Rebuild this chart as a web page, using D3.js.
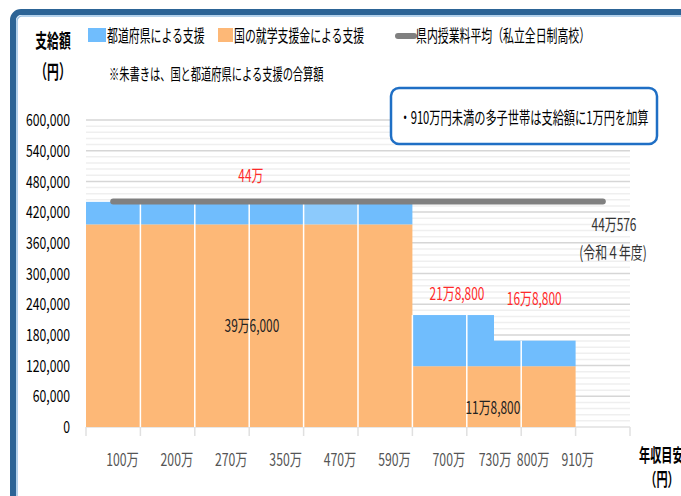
<!DOCTYPE html>
<html>
<head>
<meta charset="utf-8">
<script src="https://cdn.jsdelivr.net/npm/d3@7"></script>
<style>
  body { margin: 0; background: #fff; }
  svg { display: block; font-family: "Noto Sans CJK JP", "Noto Sans", sans-serif; }
</style>
</head>
<body>
<svg width="681" height="496"></svg>
<script>
// income brackets (x axis)
var categories = ["100万", "200万", "270万", "350万", "470万", "590万", "700万", "730万", "800万", "910万"];
// national support (就学支援金)
var national = [396000, 396000, 396000, 396000, 396000, 396000, 118800, 118800, 118800, 0];
// prefecture support, left / right half of each bracket
var prefLeft = [44000, 44000, 44000, 44000, 44000, 44000, 100000, 100000, 50000, 0];
var prefRight = [44000, 44000, 44000, 44000, 44000, 44000, 100000, 50000, 50000, 0];
// average tuition (private, full-time)
var avgTuition = 440576;
var yTicks = [0, 60000, 120000, 180000, 240000, 300000, 360000, 420000, 480000, 540000, 600000];
var legendItems = ["都道府県による支援", "国の就学支援金による支援", "県内授業料平均（私立全日制高校）"];

var BLUE = "#70bdfd", BLUE_LIGHT = "#8ccafc", ORANGE = "#fdb877", GRAY = "#808080";
var SX = 0.7;

var svg = d3.select("svg");

var x = d3.scaleLinear().domain([0, categories.length]).range([86, 630]),
    y = d3.scaleLinear().domain([0, 600000]).range([427, 120]);

function txt(g, px, py, s, o) {
    o = o || {};
    return g.append("text")
        .attr("transform", "translate(" + px + "," + py + ") scale(" + (o.sx || SX) + ",1)")
        .attr("text-anchor", o.anchor || "middle")
        .attr("dy", "0.36em")
        .attr("font-size", (o.size || 17) + "px")
        .attr("font-weight", o.bold ? "bold" : "normal")
        .attr("fill", o.color || "#000")
        .text(s);
}

// frame
svg.append("rect")
    .attr("x", 13).attr("y", 12)
    .attr("width", 720).attr("height", 540)
    .attr("rx", 8)
    .attr("fill", "none")
    .attr("stroke", "#2c6496")
    .attr("stroke-width", 6);
svg.append("rect")
    .attr("x", 17).attr("y", 16)
    .attr("width", 720).attr("height", 540)
    .attr("rx", 5)
    .attr("fill", "none")
    .attr("stroke", "#9cc3e6")
    .attr("stroke-width", 1.5);

// grid
var minor = d3.range(12000, 600001, 12000);
svg.append("g").selectAll("line")
    .data(minor)
    .enter().append("line")
    .attr("x1", x(0)).attr("x2", x(10))
    .attr("y1", function(d) { return y(d); })
    .attr("y2", function(d) { return y(d); })
    .attr("stroke", function(d) { return d % 60000 === 0 ? "#d6d6d6" : "#efefef"; })
    .attr("stroke-width", 1.5);

// baseline + ticks
svg.append("line")
    .attr("x1", x(0)).attr("x2", x(10))
    .attr("y1", y(0)).attr("y2", y(0))
    .attr("stroke", "#e0e0e0").attr("stroke-width", 1.5);
svg.append("g").selectAll("line")
    .data(d3.range(categories.length + 1))
    .enter().append("line")
    .attr("x1", function(d) { return x(d); })
    .attr("x2", function(d) { return x(d); })
    .attr("y1", y(0)).attr("y2", y(0) + 9)
    .attr("stroke", "#e0e0e0").attr("stroke-width", 1.5);

// bars: orange per bracket, blue merged over runs of equal half-brackets
var bars = svg.append("g");
categories.forEach(function(c, i) {
    if (national[i] <= 0) return;
    bars.append("rect")
        .attr("x", x(i)).attr("width", x(i + 1) - x(i))
        .attr("y", y(national[i]))
        .attr("height", y(0) - y(national[i]))
        .attr("fill", ORANGE);
});
var halves = [];
categories.forEach(function(c, i) {
    halves.push({ s: i, base: national[i], v: prefLeft[i], light: i === 4 });
    halves.push({ s: i + 0.5, base: national[i], v: prefRight[i], light: i === 4 });
});
var runs = [];
halves.forEach(function(h) {
    var last = runs[runs.length - 1];
    if (last && last.base === h.base && last.v === h.v && last.light === h.light) {
        last.e = h.s + 0.5;
    } else {
        runs.push({ s: h.s, e: h.s + 0.5, base: h.base, v: h.v, light: h.light });
    }
});
runs.filter(function(r) { return r.v > 0; }).forEach(function(r) {
    bars.append("rect")
        .attr("x", x(r.s)).attr("width", x(r.e) - x(r.s))
        .attr("y", y(r.base + r.v))
        .attr("height", y(r.base) - y(r.base + r.v))
        .attr("fill", r.light ? BLUE_LIGHT : BLUE);
});
// white separators between brackets
d3.range(1, categories.length).forEach(function(i) {
    var top = Math.min(national[i - 1] + prefRight[i - 1], national[i] + prefLeft[i]);
    if (top <= 0) return;
    bars.append("line")
        .attr("x1", x(i)).attr("x2", x(i))
        .attr("y1", y(0)).attr("y2", y(top))
        .attr("stroke", "#fff").attr("stroke-width", 1.5);
});

// average tuition line
svg.append("line")
    .attr("x1", x(0.5)).attr("x2", x(9.5))
    .attr("y1", y(avgTuition)).attr("y2", y(avgTuition))
    .attr("stroke", GRAY).attr("stroke-width", 6)
    .attr("stroke-linecap", "round");

// y axis labels
yTicks.forEach(function(t) {
    txt(svg, 70, y(t), d3.format(",")(t), { anchor: "end", sx: 0.72 });
});

// x axis labels
var labelShift = [0.67, 0.67, 0.67, 0.67, 0.67, 0.67, 0.67, 0.52, 0.22, 0.04];
categories.forEach(function(c, i) {
    txt(svg, x(i + labelShift[i]), 460, c, { color: "#555", sx: 0.72 });
});

// value annotations
var red = "#ff2a2a";
txt(svg, x(3.03), y(440000) - 26, "44万", { color: red });
txt(svg, x(3.05), y(198000), "39万6,000", { color: "#222" });
txt(svg, x(6.82), y(218800) - 21, "21万8,800", { color: red });
txt(svg, x(8.24), y(168800) - 42, "16万8,800", { color: red });
txt(svg, x(7.48), y(118800) + 42, "11万8,800", { color: "#222" });
txt(svg, 614, 225, "44万576", { color: "#333" });
txt(svg, 613, 253, "(令和４年度)", { color: "#333" });

// axis titles
txt(svg, 53, 41, "支給額", { bold: true, size: 19, sx: 0.62 });
txt(svg, 53, 72, "（円）", { bold: true, size: 19, sx: 0.62 });
txt(svg, 639, 456, "年収目安", { bold: true, size: 18, sx: 0.62, anchor: "start" });
txt(svg, 662, 480, "（円）", { bold: true, size: 18, sx: 0.62 });

// legend
var lg = svg.append("g");
lg.append("rect").attr("x", 88).attr("y", 28).attr("width", 18).attr("height", 14).attr("fill", BLUE);
txt(lg, 107, 36, legendItems[0], { anchor: "start", sx: 0.64 });
lg.append("rect").attr("x", 218).attr("y", 28).attr("width", 15).attr("height", 14).attr("fill", ORANGE);
txt(lg, 234, 36, legendItems[1], { anchor: "start", sx: 0.64 });
lg.append("line").attr("x1", 398).attr("x2", 414).attr("y1", 36).attr("y2", 36)
    .attr("stroke", GRAY).attr("stroke-width", 6).attr("stroke-linecap", "round");
txt(lg, 416, 36, legendItems[2], { anchor: "start", sx: 0.64 });

txt(svg, 109, 74, "※朱書きは、国と都道府県による支援の合算額", { anchor: "start", size: 16, sx: 0.64 });

// note box
svg.append("rect")
    .attr("x", 391).attr("y", 88)
    .attr("width", 266).attr("height", 56)
    .attr("rx", 8)
    .attr("fill", "#fff")
    .attr("stroke", "#1f6fc5").attr("stroke-width", 2.5);
txt(svg, 524, 118, "・910万円未満の多子世帯は支給額に1万円を加算", { size: 17, sx: 0.66 });
</script>
</body>
</html>
